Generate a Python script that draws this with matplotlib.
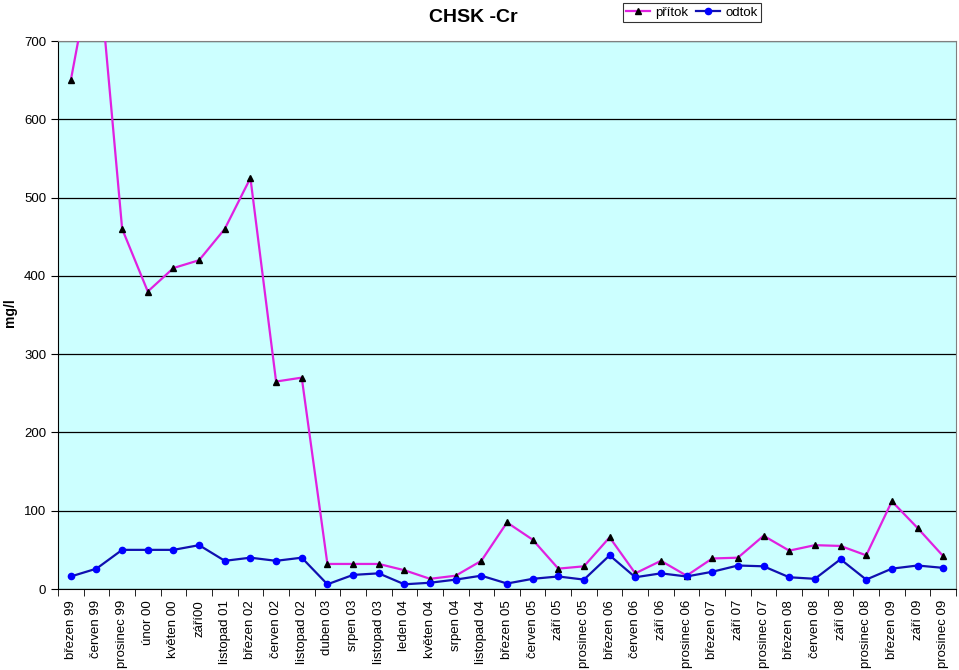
import numpy as np
import matplotlib
matplotlib.use("Agg")
import matplotlib.pyplot as plt
from matplotlib.ticker import FixedLocator, MultipleLocator

plt.rcParams['font.family'] = ['Liberation Sans', 'DejaVu Sans']

labels = ['březen 99', 'červen 99', 'prosinec 99', 'únor 00', 'květen 00', 'září00',
          'listopad 01', 'březen 02', 'červen 02', 'listopad 02', 'duben 03', 'srpen 03',
          'listopad 03', 'leden 04', 'květen 04', 'srpen 04', 'listopad 04', 'březen 05',
          'červen 05', 'září 05', 'prosinec 05', 'březen 06', 'červen 06', 'září 06',
          'prosinec 06', 'březen 07', 'září 07', 'prosinec 07', 'březen 08', 'červen 08',
          'září 08', 'prosinec 08', 'březen 09', 'září 09', 'prosinec 09']

pritok = [650, 825, 460, 380, 410, 420, 460, 525, 265, 270, 32, 32, 32, 24, 13, 17, 36,
          85, 63, 26, 29, 66, 20, 36, 17, 39, 40, 68, 49, 56, 55, 43, 112, 78, 42]

odtok = [16, 26, 50, 50, 50, 56, 36, 40, 36, 40, 6, 18, 20, 6, 8, 12, 17,
         7, 13, 16, 12, 43, 15, 20, 16, 22, 30, 29, 15, 13, 38, 12, 26, 30, 27]

x = np.arange(len(labels))

fig = plt.figure(figsize=(9.59, 6.70), dpi=100)
ax = fig.add_axes([58 / 959, 81 / 670, 898 / 959, 548 / 670])
ax.set_facecolor('#CCFFFF')

ax.plot(x, pritok, color='#E020E0', lw=1.6, marker='^', ms=5,
        mfc='black', mec='black', label='přítok', zorder=3)
ax.plot(x, odtok, color='#1010B0', lw=1.6, marker='o', ms=4.5,
        mfc='#0000FF', mec='#0000FF', label='odtok', zorder=3)

ax.set_xlim(-0.5, len(labels) - 0.5)
ax.set_ylim(0, 700)
ax.yaxis.set_major_locator(MultipleLocator(100))
ax.grid(axis='y', color='black', lw=0.9)
ax.set_axisbelow(True)

ax.set_xticks(x)
ax.set_xticklabels(labels, rotation=90, fontsize=9.5)
ax.tick_params(axis='x', which='major', length=0, pad=8)
ax.xaxis.set_minor_locator(FixedLocator(np.arange(-0.5, len(labels), 1.0)))
ax.tick_params(axis='x', which='minor', length=5, direction='out', color='black')
ax.tick_params(axis='y', labelsize=9.5, length=5, direction='out')

for s in ['top', 'right']:
    ax.spines[s].set_color('#808080')
for s in ['left', 'bottom']:
    ax.spines[s].set_color('black')

fig.text(10 / 959, 1 - 313 / 670, 'mg/l', rotation=90, ha='center', va='center',
         fontsize=10, fontweight='bold')
fig.text(473 / 959, 1 - 17 / 670, 'CHSK -Cr', ha='center', va='center',
         fontsize=14, fontweight='bold')

leg = ax.legend(loc='upper left', bbox_to_anchor=(623 / 959, 1 - 3 / 670),
                bbox_transform=fig.transFigure, ncol=2, fontsize=9.5,
                frameon=True, fancybox=False, edgecolor='black',
                handlelength=1.8, handletextpad=0.4, columnspacing=0.6,
                borderpad=0.25, borderaxespad=0)
leg.get_frame().set_linewidth(0.8)

fig.savefig('out.png', dpi=100)
